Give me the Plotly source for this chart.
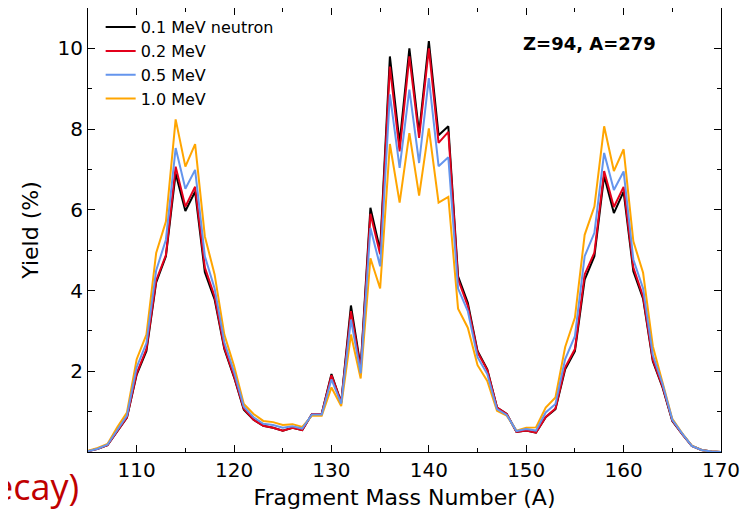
import plotly.graph_objects as go

mass = list(range(105, 171))

y_01 = [0.02, 0.08, 0.17, 0.5, 0.85, 1.92, 2.5, 4.2, 4.85, 6.9,
        5.97, 6.45, 4.45, 3.78, 2.55, 1.85, 1.05, 0.8, 0.65, 0.6,
        0.53, 0.6, 0.54, 0.94, 0.95, 1.93, 1.23, 3.63, 2.1, 6.05,
        5.0, 9.8, 7.65, 10.0, 7.9, 10.18, 7.85, 8.07, 4.35, 3.7,
        2.5, 2.05, 1.1, 0.94, 0.5, 0.53, 0.48, 0.86, 1.06, 2.05,
        2.5, 4.27, 4.85, 6.84, 5.92, 6.45, 4.48, 3.8, 2.25, 1.6,
        0.77, 0.45, 0.15, 0.05, 0.01, 0.0]

y_02 = [0.02, 0.08, 0.17, 0.5, 0.86, 1.95, 2.55, 4.25, 4.88, 7.07,
        6.08, 6.57, 4.57, 3.85, 2.58, 1.87, 1.07, 0.8, 0.65, 0.6,
        0.53, 0.6, 0.54, 0.94, 0.95, 1.9, 1.23, 3.49, 2.05, 5.9,
        4.9, 9.55, 7.45, 9.8, 7.78, 10.0, 7.66, 7.93, 4.28, 3.62,
        2.47, 2.03, 1.1, 0.94, 0.5, 0.53, 0.48, 0.87, 1.08, 2.1,
        2.55, 4.4, 4.94, 6.96, 6.07, 6.57, 4.57, 3.85, 2.28, 1.62,
        0.78, 0.45, 0.15, 0.05, 0.01, 0.0]

y_05 = [0.02, 0.08, 0.18, 0.55, 0.9, 2.1, 2.7, 4.5, 5.26, 7.53,
        6.52, 6.99, 4.85, 4.05, 2.72, 1.98, 1.12, 0.86, 0.7, 0.67,
        0.6, 0.64, 0.58, 0.93, 0.93, 1.8, 1.2, 3.28, 1.95, 5.55,
        4.6, 8.86, 7.04, 8.98, 7.16, 9.26, 7.08, 7.3, 4.05, 3.49,
        2.35, 1.93, 1.06, 0.92, 0.52, 0.57, 0.53, 0.98, 1.19, 2.3,
        2.87, 4.85, 5.43, 7.41, 6.49, 6.95, 4.77, 4.05, 2.4, 1.68,
        0.8, 0.46, 0.15, 0.05, 0.01, 0.0]

y_10 = [0.03, 0.1, 0.2, 0.61, 0.98, 2.3, 2.91, 4.93, 5.71, 8.24,
        7.07, 7.63, 5.34, 4.4, 2.91, 2.13, 1.19, 0.94, 0.77, 0.74,
        0.67, 0.69, 0.62, 0.9, 0.9, 1.6, 1.14, 2.91, 1.82, 4.8,
        4.05, 7.63, 6.18, 7.9, 6.35, 8.02, 6.18, 6.32, 3.55, 3.08,
        2.15, 1.76, 1.02, 0.9, 0.53, 0.6, 0.61, 1.1, 1.35, 2.6,
        3.33, 5.38, 6.08, 8.07, 6.96, 7.5, 5.22, 4.44, 2.62, 1.75,
        0.82, 0.47, 0.16, 0.05, 0.01, 0.0]

series = [
    ("0.1 MeV neutron", y_01, "#000000", 1),
    ("0.2 MeV", y_02, "#e3001b", 2),
    ("1.0 MeV", y_10, "#ffa500", 4),
    ("0.5 MeV", y_05, "#6495ed", 3),
]

x_ticks = [110, 120, 130, 140, 150, 160, 170]
y_ticks = [2, 4, 6, 8, 10]

fig = go.Figure()
for name, ys, color, rank in series:
    fig.add_trace(go.Scatter(x=mass, y=ys, mode="lines", name=name,
                             line=dict(color=color, width=2),
                             legendrank=rank))

font = "DejaVu Sans"
axis_common = dict(showline=True, linecolor="black", linewidth=1.2,
                   mirror="allticks", ticks="inside", ticklen=7,
                   tickwidth=1, tickcolor="black", showgrid=False,
                   zeroline=False,
                   tickfont=dict(family=font, size=20, color="black"))

fig.update_xaxes(range=[105, 170], tickvals=x_ticks,
                 minor=dict(dtick=5, ticks="inside", ticklen=4,
                            tickcolor="black", tick0=105),
                 title=dict(text="Fragment Mass Number (A)",
                            font=dict(family=font, size=22, color="black"),
                            standoff=8),
                 **axis_common)
fig.update_yaxes(range=[0, 11], tickvals=y_ticks,
                 minor=dict(dtick=1, ticks="inside", ticklen=4,
                            tickcolor="black", tick0=0),
                 title=dict(text="Yield (%)",
                            font=dict(family=font, size=22, color="black"),
                            standoff=12),
                 **axis_common)

# page body adds an 8px offset; margins compensate for it
fig.update_layout(
    width=755, height=519,
    margin=dict(l=80, r=42, t=0, b=75, autoexpand=False),
    paper_bgcolor="white", plot_bgcolor="white",
    showlegend=True,
    legend=dict(x=0.02, y=0.995, xanchor="left", yanchor="top",
                bgcolor="rgba(0,0,0,0)",
                font=dict(family=font, size=16, color="black")),
    annotations=[
        dict(text="<b>Z=94, A=279</b>", xref="paper", yref="paper",
             x=0.9005, y=0.921, xanchor="right", yanchor="middle",
             showarrow=False,
             font=dict(family=font, size=18, color="black")),
        dict(text="ecay)", xref="paper", yref="paper",
             x=-0.011, y=-0.078, xanchor="right", yanchor="middle",
             showarrow=False,
             font=dict(family="Open Sans", size=36, color="#c00000")),
    ],
)

fig.write_html("out.html")
